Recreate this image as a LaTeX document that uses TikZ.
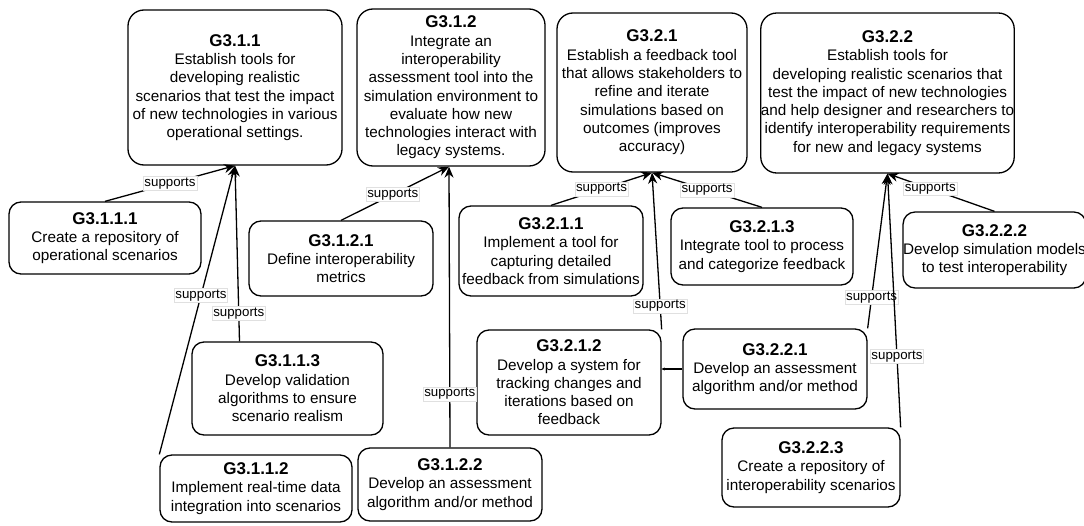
\documentclass[tikz,border=0pt]{standalone}
\usepackage{fontspec}
\setmainfont{Liberation Sans}
\usetikzlibrary{arrows.meta,calc}
\newcommand{\mkgoal}[2]{{\fontsize{17}{19.5}\selectfont\bfseries #1}\\#2}
\begin{document}
\begin{tikzpicture}[x=1pt,y=-1pt,
  goalbox/.style={draw=black, line width=1.3pt, rounded corners=12pt, align=center,
    inner sep=0pt, font=\fontsize{15.3}{18.3}\selectfont},
  bigbox/.style={goalbox, rounded corners=16pt},
  conn/.style={draw=black, line width=1.3pt, -{Stealth[length=11pt,width=9pt,inset=3.5pt]}},
  smallconn/.style={draw=black, line width=1.3pt, -{Stealth[length=3pt,width=3pt]}},
  lbl/.style={fill=white, draw=black!12, line width=0.4pt, inner sep=1.2pt,
    font=\fontsize{13.3}{15}\selectfont}]
\useasboundingbox[fill=white] (0,0) rectangle (1084,525);

% top-level goals
\node[bigbox, minimum width=214pt, minimum height=155pt] (g311) at (235,87.5)
  {\mkgoal{G3.1.1}{Establish tools for\\developing realistic\\scenarios that test the impact\\of new technologies in various\\operational settings.}};
\node[bigbox, minimum width=188pt, minimum height=157pt] (g312) at (451,87.5)
  {\mkgoal{G3.1.2}{Integrate an\\interoperability\\assessment tool into the\\simulation environment to\\evaluate how new\\technologies interact with\\legacy systems.}};
\node[bigbox, minimum width=190pt, minimum height=159pt] (g321) at (652,92.5)
  {\mkgoal{G3.2.1}{Establish a feedback tool\\that allows stakeholders to\\refine and iterate\\simulations based on\\outcomes (improves\\accuracy)}};
\node[bigbox, minimum width=253pt, minimum height=160pt] (g322) at (887.5,93)
  {\mkgoal{G3.2.2}{Establish tools for\\developing realistic scenarios that\\test the impact of new technologies\\and help designer and researchers to\\identify interoperability requirements\\for new and legacy systems}};

% sub-goals
\node[goalbox, minimum width=192pt, minimum height=72pt] (g3111) at (105,238)
  {\mkgoal{G3.1.1.1}{Create a repository of\\operational scenarios}};
\node[goalbox, minimum width=184pt, minimum height=75pt] (g3121) at (341,258.5)
  {\mkgoal{G3.1.2.1}{Define interoperability\\metrics}};
\node[goalbox, minimum width=191pt, minimum height=93pt] (g3113) at (287.5,388.5)
  {\mkgoal{G3.1.1.3}{Develop validation\\algorithms to ensure\\scenario realism}};
\node[goalbox, minimum width=192pt, minimum height=67pt] (g3112) at (256,488.5)
  {\mkgoal{G3.1.1.2}{Implement real-time data\\integration into scenarios}};
\node[goalbox, minimum width=184pt, minimum height=73pt] (g3122) at (450,484.5)
  {\mkgoal{G3.1.2.2}{Develop an assessment\\algorithm and/or method}};
\node[goalbox, minimum width=184pt, minimum height=90pt] (g3211) at (551,251)
  {\mkgoal{G3.2.1.1}{Implement a tool for\\capturing detailed\\feedback from simulations}};
\node[goalbox, minimum width=184pt, minimum height=105pt] (g3212) at (569,382.5)
  {\mkgoal{G3.2.1.2}{Develop a system for\\tracking changes and\\iterations based on\\feedback}};
\node[goalbox, minimum width=182pt, minimum height=77pt] (g3213) at (762,246.5)
  {\mkgoal{G3.2.1.3}{Integrate tool to process\\and categorize feedback}};
\node[goalbox, minimum width=184pt, minimum height=80pt] (g3221) at (775,369)
  {\mkgoal{G3.2.2.1}{Develop an assessment\\algorithm and/or method}};
\node[goalbox, minimum width=177pt, minimum height=76pt] (g3222) at (994.5,250)
  {\mkgoal{G3.2.2.2}{Develop simulation models\\to test interoperability}};
\node[goalbox, minimum width=178pt, minimum height=79pt] (g3223) at (811,467.5)
  {\mkgoal{G3.2.2.3}{Create a repository of\\interoperability scenarios}};

% connectors
\draw[conn] (g3111.north) -- node[lbl, pos=0.5] {supports} (g311.south);
\draw[conn] (g3112.north west) -- node[lbl, pos=0.55] {supports} (g311.south);
\draw[conn] ($(g3113.north)+(-48,0)$) -- node[lbl, pos=0.16] {supports} (g311.south);
\draw[conn] (g3121.north) -- node[lbl, pos=0.48] {supports} ($(g312.south)+(-2,0)$);
\draw[conn] (g3122.north) -- node[lbl, pos=0.19] {supports} ($(g312.south)+(-2,0)$);
\draw[conn] (g3211.north) -- node[lbl, pos=0.5] {supports} (g321.south);
\draw[conn] (g3212.north east) -- node[lbl, pos=0.15] {supports} (g321.south);
\draw[conn] (g3213.north) -- node[lbl, pos=0.5] {supports} (g321.south);
\draw[conn] (g3221.north east) -- node[lbl, pos=0.2] {supports} (g322.south);
\draw[conn] (g3222.north) -- node[lbl, pos=0.6] {supports} (g322.south);
\draw[conn] (g3223.north east) -- node[lbl, pos=0.28] {supports} (g322.south);
\draw[smallconn] (g3221.west) -- (g3212.east |- g3221.west);
\end{tikzpicture}
\end{document}
